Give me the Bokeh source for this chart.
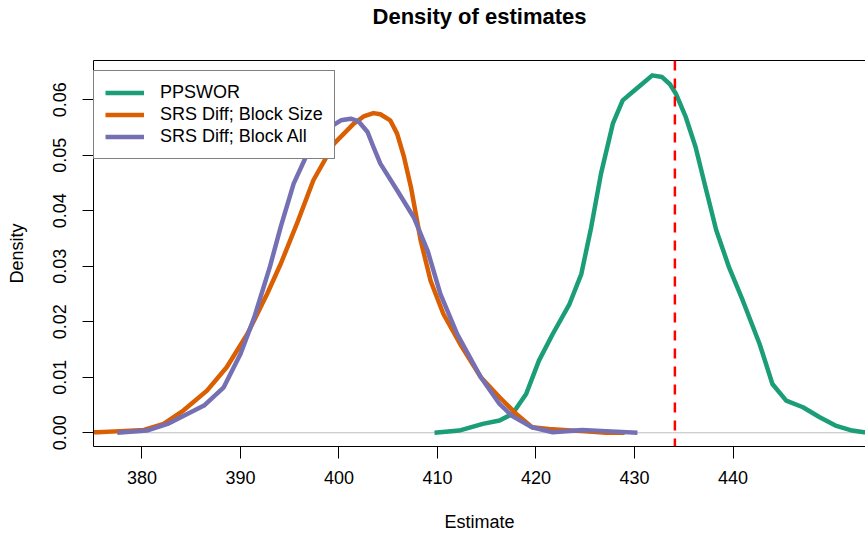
from bokeh.plotting import figure
from bokeh.models import Range1d, FixedTicker, PrintfTickFormatter, Span, Legend, LegendItem, LinearAxis
from bokeh.embed import file_html
from bokeh.resources import INLINE

# ---- data ----
ppswor_x = [409.7, 412.2, 414.6, 416.3, 417.6, 419.0, 420.3, 421.7, 423.4, 424.6, 425.6, 426.6,
            427.8, 428.8, 429.8, 430.8, 431.8, 432.8, 433.6, 434.2, 435.2, 436.2, 437.2, 438.3, 439.6, 441.0,
            442.7, 444.0, 445.4, 447.1, 448.8, 450.4, 452.1, 453.3, 454.5]
ppswor_y = [0.0, 0.0004, 0.0016, 0.0022, 0.0034, 0.0070, 0.0130, 0.0178, 0.0232, 0.0286, 0.0370, 0.0467,
            0.0557, 0.0599, 0.0614, 0.0629, 0.0644, 0.0641, 0.0628, 0.0611, 0.0569, 0.0515, 0.0443, 0.0365,
            0.0298, 0.0238, 0.0160, 0.0088, 0.0058, 0.0046, 0.0028, 0.0013, 0.0004, 0.0001, 0.0]

size_x = [374.5, 375.5, 377.8, 380.2, 382.2, 384.2, 386.6, 388.6, 390.7, 392.7, 394.1, 395.8, 397.4,
          399.5, 401.5, 402.5, 403.5, 404.2, 405.2, 405.9, 406.6, 407.3, 408.3, 409.3, 410.6, 412.3, 414.4,
          416.3, 418.0, 419.6, 421.3, 424.7, 427.1, 429.0]
size_y = [0.0001, 0.0001, 0.0003, 0.0005, 0.0016, 0.0040, 0.0076, 0.0118, 0.0178, 0.0250, 0.0305, 0.0380, 0.0455,
          0.0521, 0.0557, 0.0570, 0.0576, 0.0574, 0.0563, 0.0539, 0.0497, 0.0443, 0.0346, 0.0274, 0.0214, 0.0160,
          0.0100, 0.0064, 0.0034, 0.0010, 0.0007, 0.0003, 0.0000, 0.0000]

all_x = [377.5, 380.5, 382.6, 384.6, 386.3, 388.3, 390.0, 391.4, 393.0, 394.1, 395.4, 397.1, 399.1,
         400.2, 401.2, 402.0, 402.9, 403.5, 404.2, 405.9, 407.6, 409.0, 410.3, 412.0, 414.4, 416.3, 417.6,
         419.6, 421.7, 424.7, 427.1, 430.3]
all_y = [0.0000, 0.0004, 0.0016, 0.0034, 0.0049, 0.0082, 0.0142, 0.0208, 0.0300, 0.0372, 0.0449, 0.0515, 0.0551,
         0.0563, 0.0566, 0.0561, 0.0542, 0.0515, 0.0485, 0.0437, 0.0388, 0.0328, 0.0250, 0.0178, 0.0100, 0.0052,
         0.0030, 0.0010, 0.0001, 0.0005, 0.0003, 0.0000]

true_value = 434.1
x_ticks = [380, 390, 400, 410, 420, 430, 440]
y_ticks = [0.00, 0.01, 0.02, 0.03, 0.04, 0.05, 0.06]
labels = ["PPSWOR", "SRS Diff; Block Size", "SRS Diff; Block All"]
colors = ["#1B9E77", "#D95F02", "#7570B3"]
title_text = "Density of estimates"

FONT = "Liberation Sans"

p = figure(width=865, height=534, output_backend="svg", toolbar_location=None, title=None,
           x_range=Range1d(375.08, 453.45), y_range=Range1d(-0.00247, 0.06708),
           min_border_left=93, min_border_right=0, min_border_top=60, min_border_bottom=88)

# top axis: draws the top border of the box and carries the chart title
top_axis = LinearAxis(ticker=FixedTicker(ticks=[]), major_tick_out=0, major_tick_in=0,
                      major_tick_line_color=None, minor_tick_line_color=None,
                      major_label_standoff=0, axis_line_color="black",
                      axis_label=title_text, axis_label_standoff=32,
                      axis_label_text_font=FONT, axis_label_text_font_size="22px",
                      axis_label_text_font_style="bold", axis_label_text_color="black")
p.add_layout(top_axis, "above")

p.grid.visible = False
p.outline_line_color = None
p.background_fill_color = "white"
p.border_fill_color = "white"

# axes
xa = p.below[0]
xa.ticker = FixedTicker(ticks=x_ticks)
xa.axis_label = "Estimate"
ya = p.left[0]
ya.ticker = FixedTicker(ticks=y_ticks)
ya.formatter = PrintfTickFormatter(format="%.2f")
ya.axis_label = "Density"
ya.major_label_orientation = "parallel"
for ax in (xa, ya):
    ax.axis_line_color = "black"
    ax.major_tick_line_color = "black"
    ax.minor_tick_line_color = None
    ax.major_tick_in = 0
    ax.major_label_text_font = FONT
    ax.major_label_text_font_size = "18px"
    ax.major_label_text_color = "black"
    ax.axis_label_text_font = FONT
    ax.axis_label_text_font_size = "18px"
    ax.axis_label_text_font_style = "normal"
    ax.axis_label_text_color = "black"
xa.major_tick_out = 12
xa.major_label_standoff = 12
xa.axis_label_standoff = 25
ya.major_tick_out = 11
ya.major_label_standoff = 16
ya.axis_label_standoff = 24

# zero line
p.add_layout(Span(location=0, dimension="width", line_color="#BEBEBE", line_width=1, level="underlay"))

r1 = p.line(ppswor_x, ppswor_y, line_color=colors[0], line_width=4.5, line_join="round")
r2 = p.line(size_x, size_y, line_color=colors[1], line_width=4.5, line_join="round")
r3 = p.line(all_x, all_y, line_color=colors[2], line_width=4.5, line_join="round")

p.add_layout(Span(location=true_value, dimension="height", line_color="#FF0000",
                  line_width=2.5, line_dash="10 8"))

legend = Legend(items=[LegendItem(label=labels[0], renderers=[r1]),
                       LegendItem(label=labels[1], renderers=[r2]),
                       LegendItem(label=labels[2], renderers=[r3])],
                location=(0, 287), margin=0, padding=11, spacing=1,
                glyph_width=39, glyph_height=21, label_height=21, label_standoff=16,
                label_text_font=FONT, label_text_font_size="18px", label_text_color="black",
                border_line_color="black", border_line_width=1,
                background_fill_color="white", background_fill_alpha=1.0)
p.add_layout(legend)

open("out.html", "w").write(file_html(p, INLINE))
